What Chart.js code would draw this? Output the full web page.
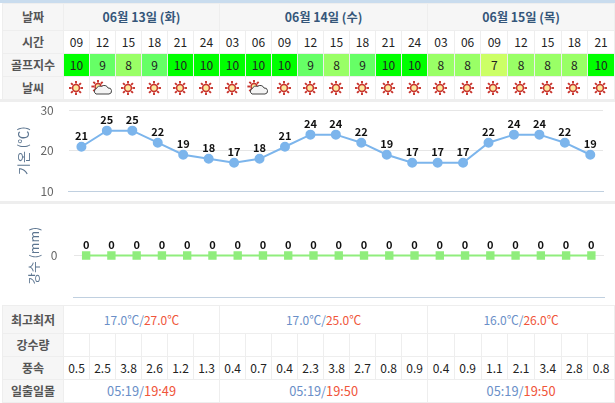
<!DOCTYPE html>
<html>
<head>
<meta charset="utf-8">
<script src="https://cdn.jsdelivr.net/npm/chart.js@4/dist/chart.umd.min.js"></script>
<style>
  html, body { margin: 0; padding: 0; background: #fff; overflow: hidden; }
  body { width: 615px; height: 403px; position: relative; font-family: "Noto Sans CJK KR", "Noto Sans", sans-serif; }
  #topbar { position: absolute; left: 0; top: 0; width: 615px; height: 3px; background: #c9dcee; }
  #gap1 { position: absolute; left: 0; top: 99px; width: 615px; height: 3px; background: #eee; }
  #gap2 { position: absolute; left: 0; top: 201px; width: 615px; height: 3px; background: #eee; }
  canvas { position: absolute; left: 0; }
  table { position: absolute; left: 2px; border-collapse: collapse; table-layout: fixed; width: 613px; }
  td, th { border: 1px solid #eee; padding: 0; text-align: center; font-size: 12px; font-weight: 400; color: #222; overflow: hidden; white-space: nowrap; line-height: 14px; }
  th.head { background: #f6f6f6; color: #555; font-weight: 700; font-size: 12px; }
  th.date { background: #f6f6f6; color: #35567a; font-weight: 700; font-size: 12.3px; }
  td.sun { font-size: 12.8px; }
  .lo { color: #6a8fc8; }
  .hi { color: #f0553a; }
  td svg { display: block; margin: 0 auto; position: relative; left: -1px; }
</style>
</head>
<body>
<div id="topbar"></div>
<table id="tblTop" style="top:3px"></table>
<div id="gap1"></div>
<canvas id="tempChart" width="615" height="99" style="top:102px"></canvas>
<div id="gap2"></div>
<canvas id="rainChart" width="615" height="101" style="top:204px"></canvas>
<table id="tblBottom" style="top:305px"></table>
<script>
const dates = ['06월 13일 (화)', '06월 14일 (수)', '06월 15일 (목)'];
const dateSpans = [6, 8, 7];
const hours = ['09','12','15','18','21','24','03','06','09','12','15','18','21','24','03','06','09','12','15','18','21'];
const golfIndex = [10,9,8,9,10,10,10,10,10,9,8,9,10,10,8,8,7,8,8,8,10];
const weather = ['sun','cloud','sun','sun','sun','sun','sun','cloud','sun','sun','sun','sun','sun','sun','sun','sun','sun','sun','sun','sun','sun'];
const temps = [21,25,25,22,19,18,17,18,21,24,24,22,19,17,17,17,22,24,24,22,19];
const rain = [0,0,0,0,0,0,0,0,0,0,0,0,0,0,0,0,0,0,0,0,0];
const wind = ['0.5','2.5','3.8','2.6','1.2','1.3','0.4','0.7','0.4','2.3','3.8','2.7','0.8','0.9','0.4','0.9','1.1','2.1','3.4','2.8','0.8'];
const lowTemps = ['17.0℃', '17.0℃', '16.0℃'];
const highTemps = ['27.0℃', '25.0℃', '26.0℃'];
const sunrise = ['05:19', '05:19', '05:19'];
const sunset = ['19:49', '19:50', '19:50'];
const golfColors = { 10: '#00ff00', 9: '#66ff66', 8: '#99ff66', 7: '#ccff66' };

// icons
function sunSvg(cx, cy, r) {
  let rays = '';
  for (let i = 0; i < 8; i++) {
    const a = i * Math.PI / 4;
    rays += `<line x1="${cx + Math.cos(a) * (r + 1)}" y1="${cy + Math.sin(a) * (r + 1)}" x2="${cx + Math.cos(a) * (r + 3.6)}" y2="${cy + Math.sin(a) * (r + 3.6)}" stroke="#c8332c" stroke-width="1.9"/>`;
  }
  return rays + `<circle cx="${cx}" cy="${cy}" r="${r}" fill="#fbe9a0" stroke="#c8332c" stroke-width="1.5"/>`;
}
function iconSvg(kind) {
  if (kind === 'sun') return `<svg width="16" height="16">${sunSvg(8, 8, 3.4)}</svg>`;
  return `<svg width="22" height="16">${sunSvg(7, 6.5, 3)}<path d="M5 14 a3 3 0 0 1 0.5-5.5 a3.5 3.5 0 0 1 5-2 a4 4 0 0 1 6.5 1.5 a3 3 0 0 1 1 6 z" fill="#f4f4f4" stroke="#444" stroke-width="1"/></svg>`;
}

const colgroup = '<colgroup><col style="width:61px">' + hours.map((h, i) => `<col style="width:${i < 14 ? 26 : 26.7}px">`).join('') + '</colgroup>';
function row(h, label, cells) {
  return `<tr style="height:${h}px"><th class="head">${label}</th>${cells}</tr>`;
}
function daily(fn, cls) {
  return dateSpans.map((s, i) => `<td class="${cls}" colspan="${s}">${fn(i)}</td>`).join('');
}

document.getElementById('tblTop').innerHTML = colgroup +
  `<tr style="height:27px"><th class="head">날짜</th>${dateSpans.map((s, i) => `<th class="date" colspan="${s}">${dates[i]}</th>`).join('')}</tr>` +
  row(23, '시간', hours.map(h => `<td>${h}</td>`).join('')) +
  row(23, '골프지수', golfIndex.map(g => `<td style="background:${golfColors[g]}">${g}</td>`).join('')) +
  row(23, '날씨', weather.map(w => `<td>${iconSvg(w)}</td>`).join(''));

document.getElementById('tblBottom').innerHTML = colgroup +
  row(28, '최고최저', daily(i => `<span class="lo">${lowTemps[i]}/</span><span class="hi">${highTemps[i]}</span>`, '')) +
  row(23, '강수량', hours.map(() => '<td></td>').join('')) +
  row(23, '풍속', wind.map(w => `<td>${w}</td>`).join('')) +
  row(23, '일출일몰', daily(i => `<span class="lo">${sunrise[i]}/</span><span class="hi">${sunset[i]}</span>`, 'sun'));

// value labels above the points
const valueLabels = {
  id: 'valueLabels',
  afterDatasetsDraw(chart) {
    const c = chart.ctx;
    const meta = chart.getDatasetMeta(0);
    c.save();
    c.font = '700 11px "Noto Sans CJK KR", "Noto Sans", sans-serif';
    c.fillStyle = '#111';
    c.textAlign = 'center';
    c.textBaseline = 'bottom';
    meta.data.forEach((pt, i) => {
      c.fillText(chart.data.datasets[0].data[i], pt.x, pt.y - 5.5);
    });
    c.restore();
  }
};

// fixed axis sizes so the plot sits where the reference has it
const fitY = w => scale => { scale.width = w; scale.paddingTop = 0; scale.paddingBottom = 0; };
const fitX = scale => { scale.height = 0; scale.paddingLeft = 0; scale.paddingRight = 0; };

new Chart(document.getElementById('tempChart'), {
  type: 'line',
  data: {
    labels: hours,
    datasets: [{
      data: temps,
      borderColor: '#7cb5ec',
      backgroundColor: '#7cb5ec',
      borderWidth: 2,
      pointRadius: 4,
      pointHoverRadius: 4,
      tension: 0,
      clip: false
    }]
  },
  options: {
    responsive: false,
    animation: false,
    layout: { padding: { top: 8.5, bottom: 10, right: 12 } },
    plugins: { legend: { display: false }, tooltip: { enabled: false } },
    scales: {
      x: {
        offset: true,
        afterFit: fitX,
        ticks: { display: false },
        grid: { display: false },
        border: { color: '#c0d0e0', width: 1 }
      },
      y: {
        min: 10,
        max: 30,
        afterFit: fitY(68.7),
        ticks: { stepSize: 10, color: '#666', font: { size: 12, family: '"Noto Sans CJK KR"' }, padding: 15 },
        grid: { color: '#e6e6e6', drawTicks: false },
        border: { display: false },
        title: { display: true, text: '기온 (℃)', color: '#5c7590', padding: { top: 15, bottom: 0 }, font: { size: 13, family: '"Noto Sans CJK KR"' } }
      }
    }
  },
  plugins: [valueLabels]
});

new Chart(document.getElementById('rainChart'), {
  type: 'line',
  data: {
    labels: hours,
    datasets: [{
      data: rain,
      borderColor: '#90ed7d',
      backgroundColor: '#90ed7d',
      borderWidth: 2,
      pointStyle: 'rect',
      pointRadius: 4.5,
      pointHoverRadius: 4.5,
      tension: 0,
      clip: false
    }]
  },
  options: {
    responsive: false,
    animation: false,
    layout: { padding: { top: 10, bottom: 8, right: 11 } },
    plugins: { legend: { display: false }, tooltip: { enabled: false } },
    scales: {
      x: {
        offset: true,
        afterFit: fitX,
        ticks: { display: false },
        grid: { display: false },
        border: { color: '#c0d0e0', width: 1 }
      },
      y: {
        min: -1,
        max: 1,
        afterFit: fitY(73.5),
        afterBuildTicks: scale => { scale.ticks = [{ value: 0 }]; },
        ticks: { color: '#666', font: { size: 12, family: '"Noto Sans CJK KR"' }, padding: 16 },
        grid: { color: '#e6e6e6', drawTicks: false },
        border: { display: false },
        title: { display: true, text: '강수 (mm)', color: '#5c7590', padding: { top: 27, bottom: 0 }, font: { size: 12.5, family: '"Noto Sans CJK KR"' } }
      }
    }
  },
  plugins: [valueLabels]
});
</script>
</body>
</html>
